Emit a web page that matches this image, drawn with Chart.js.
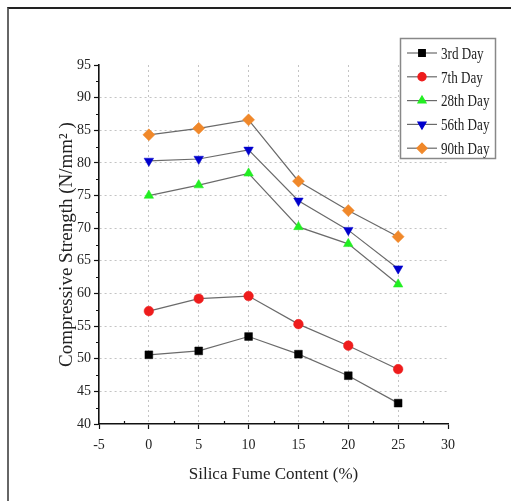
<!DOCTYPE html>
<html>
<head>
<meta charset="utf-8">
<script src="https://cdn.jsdelivr.net/npm/chart.js@4/dist/chart.umd.min.js"></script>
<style>
  html, body { margin: 0; padding: 0; background: #fff; overflow: hidden; }
  #wrap { position: relative; width: 511px; height: 501px; }
  #frame { position: absolute; left: 7px; top: 7px; width: 520px; height: 520px;
           border-left: 2px solid #666; border-top: 2px solid #222; pointer-events: none; }
  canvas { position: absolute; left: 0; top: 0; }
</style>
</head>
<body>
<div id="wrap">
  <canvas id="chart" width="511" height="501"></canvas>
  <div id="frame"></div>
</div>
<script>
// silica fume content (%)
var silicaFume = [0, 5, 10, 15, 20, 25];

// compressive strength (N/mm2)
var day3 = [50.6, 51.2, 53.4, 50.7, 47.4, 43.2];
var day7 = [57.3, 59.2, 59.6, 55.3, 52.0, 48.4];
var day28 = [75.0, 76.6, 78.4, 70.2, 67.6, 61.4];
var day56 = [80.3, 80.6, 82.0, 74.2, 69.7, 63.8];
var day90 = [84.3, 85.3, 86.6, 77.2, 72.7, 68.7];

var seriesLabels = ['3rd Day', '7th Day', '28th Day', '56th Day', '90th Day'];
var seriesColors = ['#000000', '#ee1c1c', '#22ee22', '#0000cc', '#f0882a'];
var seriesStyles = ['rect', 'circle', 'triangle', 'triangle', 'rectRot'];
var seriesRotation = [0, 0, 0, 180, 0];
var seriesRadius = [5.5, 4.8, 5.5, 5.5, 6];

var serif = "'Liberation Serif', 'DejaVu Serif', serif";
var lineGray = '#6a6a6a';

function toPoints(values) {
  return values.map(function (v, i) { return { x: silicaFume[i], y: v }; });
}

var datasets = [day3, day7, day28, day56, day90].map(function (values, i) {
  return {
    label: seriesLabels[i],
    data: toPoints(values),
    borderColor: lineGray,
    borderWidth: 1.2,
    pointStyle: seriesStyles[i],
    rotation: seriesRotation[i],
    pointRadius: seriesRadius[i],
    pointBackgroundColor: seriesColors[i],
    pointBorderColor: seriesColors[i],
    pointBorderWidth: 0.5,
    tension: 0
  };
});

// small minor ticks halfway between the major ones
var minorTicks = {
  id: 'minorTicks',
  afterDraw: function (chart) {
    var ctx = chart.ctx;
    var xs = chart.scales.x, ys = chart.scales.y;
    var area = chart.chartArea;
    ctx.save();
    ctx.strokeStyle = '#111';
    ctx.lineWidth = 1.2;
    ctx.beginPath();
    for (var v = -2.5; v < 30; v += 5) {
      var px = Math.round(xs.getPixelForValue(v)) + 0.5;
      ctx.moveTo(px, area.bottom);
      ctx.lineTo(px, area.bottom - 3);
    }
    for (var w = 42.5; w < 95; w += 5) {
      var py = Math.round(ys.getPixelForValue(w)) + 0.5;
      ctx.moveTo(area.left, py);
      ctx.lineTo(area.left - 3, py);
    }
    ctx.stroke();
    ctx.restore();
  }
};

// boxed legend that sits over the top right corner
var boxLegend = {
  id: 'boxLegend',
  afterDraw: function (chart) {
    var ctx = chart.ctx;
    var left = 400, top = 38, width = 95, height = 120, rowGap = 23.8;
    ctx.save();
    ctx.fillStyle = '#fff';
    ctx.fillRect(left, top, width, height);
    ctx.strokeStyle = '#888';
    ctx.lineWidth = 1.5;
    ctx.strokeRect(left + 0.5, top + 0.5, width, height);
    chart.data.datasets.forEach(function (ds, i) {
      var y = top + 15 + i * rowGap;
      ctx.strokeStyle = lineGray;
      ctx.lineWidth = 1.2;
      ctx.beginPath();
      ctx.moveTo(left + 7, y);
      ctx.lineTo(left + 37, y);
      ctx.stroke();
      ctx.fillStyle = seriesColors[i];
      ctx.strokeStyle = seriesColors[i];
      Chart.helpers.drawPoint(ctx, {
        pointStyle: ds.pointStyle,
        rotation: ds.rotation,
        radius: ds.pointRadius * 0.85,
        borderWidth: 0.5
      }, left + 22, y);
      ctx.fillStyle = '#222';
      ctx.font = '16px ' + serif;
      ctx.textBaseline = 'middle';
      ctx.save();
      ctx.translate(left + 41, y);
      ctx.scale(0.82, 1.1);
      ctx.fillText(ds.label, 0, 1);
      ctx.restore();
    });
    ctx.restore();
  }
};

var chart = new Chart(document.getElementById('chart'), {
  type: 'line',
  data: { datasets: datasets },
  plugins: [minorTicks, boxLegend],
  options: {
    responsive: false,
    animation: false,
    layout: { padding: { left: 50, top: 65, right: 63, bottom: 0 } },
    plugins: {
      legend: { display: false },
      tooltip: { enabled: false }
    },
    scales: {
      x: {
        type: 'linear',
        min: -5,
        max: 30,
        afterFit: function (s) { s.height = 77; },
        ticks: {
          stepSize: 5,
          padding: 8,
          color: '#222',
          font: { family: serif, size: 14 }
        },
        grid: {
          color: function (c) {
            var v = c.tick ? c.tick.value : null;
            return (v === -5 || v === 30) ? 'rgba(0,0,0,0)' : '#c4c4c4';
          },
          lineWidth: 1,
          tickColor: '#111',
          tickLength: 5,
          tickWidth: 1.2
        },
        border: { color: '#111', width: 1.6, dash: [2, 3] },
        title: {
          display: true,
          text: 'Silica Fume Content (%)',
          color: '#222',
          font: { family: serif, size: 17 },
          padding: { top: 0, bottom: 16 }
        }
      },
      y: {
        min: 40,
        max: 95,
        afterFit: function (s) { s.width = 49; },
        ticks: {
          stepSize: 5,
          padding: 3,
          color: '#222',
          font: { family: serif, size: 14 }
        },
        grid: {
          color: function (c) {
            var v = c.tick ? c.tick.value : null;
            return (v === 40 || v === 95) ? 'rgba(0,0,0,0)' : '#c4c4c4';
          },
          lineWidth: 1,
          tickColor: '#111',
          tickLength: 5,
          tickWidth: 1.2
        },
        border: { color: '#111', width: 1.6, dash: [2, 3] },
        title: {
          display: true,
          text: 'Compressive Strength (N/mm\u00B2 )',
          color: '#222',
          font: { family: serif, size: 19 },
          padding: { top: 6, bottom: 0 }
        }
      }
    }
  }
});
</script>
</body>
</html>
